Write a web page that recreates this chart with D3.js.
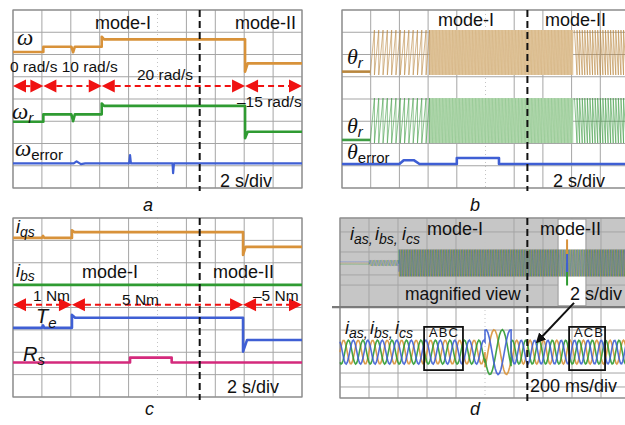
<!DOCTYPE html>
<html lang="en">
<head>
<meta charset="utf-8">
<title>Scope traces, modes I and II</title>
<script src="https://d3js.org/d3.v7.min.js"></script>
<style>
  body { margin: 0; background: #fff; }
  svg { display: block; }
  .txt { font-family: "Liberation Sans", Arial, Helvetica, sans-serif; fill: #111; }
  .greek { font-family: "Liberation Serif", "Times New Roman", serif; font-style: italic; fill: #111; }
  .ivar { font-family: "Liberation Sans", Arial, Helvetica, sans-serif; font-style: italic; fill: #111; }
</style>
</head>
<body>
<svg width="625" height="425"></svg>
<script>
// values read off the scope screens
// time in divisions (0..10 across), level in divisions (0..8 from the top)

// a: speed reference, estimated speed, speed error
const omegaRef = [[0,1.89],[1.05,1.89],[1.05,1.65],[2.02,1.65],[2.08,1.9],[2.14,1.65],[3.07,1.65],[3.07,1.2],[3.15,1.32],[8.03,1.32],[8.03,2.77],[8.12,2.4],[10,2.4]];
const omegaEst = [[0,5.02],[1.05,5.02],[1.05,4.69],[2.02,4.69],[2.08,5.0],[2.14,4.69],[3.07,4.69],[3.07,4.2],[3.15,4.31],[8.03,4.31],[8.03,5.76],[8.12,5.47],[10,5.47]];
const omegaErr = [[0,6.89],[2.1,6.89],[2.2,6.8],[2.35,6.93],[2.5,6.89],[4.02,6.89],[4.05,6.52],[4.08,6.89],[5.52,6.89],[5.54,7.33],[5.57,6.89],[10,6.89]];
const speedSteps = [0, 1.05, 3.07, 8.03, 10];   // red arrow limits

// b: rotor position (sawtooth runs), position error
const thetaStart  = [0.98, 3.05, 8.1];
const thetaEnd    = [3.05, 8.05, 10.2];
const thetaPeriod = [0.15, 0.05, 0.09];
const thetaDir    = [1, 1, -1];
const thetaBandOrange = [0.9, 2.92, 2.77];   // top, bottom, rest level
const thetaBandGreen  = [3.96, 5.98, 5.84];
const thetaErr = [[0,6.92],[2.0,6.92],[2.15,6.75],[2.5,6.75],[2.7,6.92],[4.0,6.92],[4.0,6.65],[5.47,6.65],[5.47,6.92],[10.2,6.92]];

// c: q-axis current, b-phase current, torque, stator resistance
const iqs = [[0,0.89],[1.0,0.89],[1.04,0.8],[1.08,0.89],[2.04,0.89],[2.04,0.55],[2.12,0.63],[7.96,0.63],[7.96,1.65],[8.05,1.29],[10,1.29]];
const ibs = [[0,2.99],[10,2.99]];
const torque = [[0,4.91],[1.0,4.91],[1.04,4.8],[1.08,4.91],[2.04,4.91],[2.04,4.33],[2.15,4.46],[7.96,4.46],[7.96,5.97],[8.1,5.45],[10,5.45]];
const rs = [[0,6.46],[4.05,6.46],[4.05,6.24],[5.49,6.24],[5.49,6.46],[10,6.46]];
const torqueSteps = [0, 2.04, 7.96, 10];

// d: three-phase currents, compressed view (top) and magnified view (bottom)
const topStart  = [0, 1.03, 2.03];
const topEnd    = [1.03, 2.03, 10.2];
const topAmp    = [0.06, 0.13, 0.6];
const topPeriod = [1000, 0.12, 0.09];
const lowStart  = [0, 5.0, 5.9];
const lowEnd    = [5.0, 5.9, 10.2];
const lowAmp    = [0.53, 1.0, 0.53];
const lowPeriod = [0.5, 0.85, 0.46];
const lowOrder  = [1, 1, -1];          // ABC then ACB

const modeSwitch = 6.46;

// ---------------------------------------------------------------
const svg = d3.select("svg");
const C = {orange: "#d8923a", green: "#2f9b32", blue: "#3f5fd4", magenta: "#d42a7c", red: "#f01212"};
const phaseColor = [C.orange, C.green, C.blue];

const boxA = {x0: 13, x1: 302, y0: 10, y1: 188};
const boxB = {x0: 342, x1: 629, y0: 10, y1: 188};
const boxC = {x0: 13, x1: 302, y0: 218, y1: 397};
const boxD = {x0: 340, x1: 630, y0: 218, y1: 398};

function scales(b) {
  return {
    x: d3.scaleLinear().domain([0, 10]).range([b.x0, b.x1]),
    y: d3.scaleLinear().domain([0, 8]).range([b.y0, b.y1])
  };
}
const sA = scales(boxA), sB = scales(boxB), sC = scales(boxC), sD = scales(boxD);

function grid(s, rows) {
  const g = svg.append("g");
  const ys = rows || d3.range(0, 9);
  g.selectAll(".v").data(d3.range(0, 11)).enter().append("line")
    .attr("x1", d => s.x(d)).attr("x2", d => s.x(d))
    .attr("y1", s.y(0)).attr("y2", s.y(8))
    .attr("stroke", d => d === 5 ? "#c4c4c4" : "#a5a5a5")
    .attr("stroke-dasharray", d => d === 5 ? "1,3" : null)
    .attr("stroke-width", 1);
  g.selectAll(".h").data(ys).enter().append("line")
    .attr("x1", s.x(0)).attr("x2", s.x(10))
    .attr("y1", d => s.y(d)).attr("y2", d => s.y(d))
    .attr("stroke", "#a5a5a5").attr("stroke-width", 1);
  // outer frame
  g.append("rect").attr("x", s.x(0)).attr("y", s.y(0))
    .attr("width", s.x(10) - s.x(0)).attr("height", s.y(8) - s.y(0))
    .attr("fill", "none").attr("stroke", "#8c8c8c").attr("stroke-width", 1.2);
  return g;
}

function trace(s, pts, color, w, alpha) {
  const line = d3.line().x(d => s.x(d[0])).y(d => s.y(d[1]));
  svg.append("path").attr("d", line(pts)).attr("fill", "none")
    .attr("stroke", color).attr("stroke-width", w || 2.6)
    .attr("stroke-opacity", alpha || 1)
    .attr("stroke-linejoin", "round");
}

function modeLine(s) {
  svg.append("line").attr("x1", s.x(modeSwitch)).attr("x2", s.x(modeSwitch))
    .attr("y1", s.y(0)).attr("y2", s.y(8) + 3)
    .attr("stroke", "#111").attr("stroke-width", 2).attr("stroke-dasharray", "7,4");
}

function redArrows(s, bounds, lvl) {
  const y = s.y(lvl), L = 13, H = 6.5;
  for (let i = 0; i < bounds.length - 1; i++) {
    const xa = s.x(bounds[i]), xb = s.x(bounds[i + 1]);
    svg.append("path").attr("d", `M${xa},${y}L${xa + L},${y - H}L${xa + L},${y + H}Z`).attr("fill", C.red);
    svg.append("path").attr("d", `M${xb},${y}L${xb - L},${y - H}L${xb - L},${y + H}Z`).attr("fill", C.red);
    if (xb - xa > 2 * L + 4) {
      svg.append("line").attr("x1", xa + L).attr("x2", xb - L).attr("y1", y).attr("y2", y)
        .attr("stroke", C.red).attr("stroke-width", 2).attr("stroke-dasharray", "6,4");
    }
  }
}

function text(x, y, str, size, cls) {
  return svg.append("text").attr("x", x).attr("y", y).attr("class", cls || "txt")
    .style("font-size", size + "px").text(str);
}

function subLabel(x, y, main, sub, cls, size, subSize, subItalic, dy) {
  const t = svg.append("text").attr("x", x).attr("y", y).attr("class", cls).style("font-size", size + "px");
  t.append("tspan").text(main);
  t.append("tspan").attr("class", subItalic ? "ivar" : "txt").attr("dy", dy)
    .style("font-size", subSize + "px").style("font-style", subItalic ? "italic" : "normal").text(sub);
  return t;
}

// ---------------- panel a
grid(sA);
trace(sA, omegaRef, C.orange);
trace(sA, omegaEst, C.green);
trace(sA, omegaErr, C.blue, 2.2);
modeLine(sA);
redArrows(sA, speedSteps, 3.42);
text(95, 29, "mode-I", 18);
text(235, 29, "mode-II", 18);
text(17, 45, "\u03c9", 23, "greek");
text(10, 72, "0 rad/s 10 rad/s", 15.5);
text(137, 80, "20 rad/s", 15.5);
text(237, 107, "\u201315 rad/s", 15.5);
subLabel(12, 119, "\u03c9", "r", "greek", 23, 15, true, 4);
subLabel(15, 156, "\u03c9", "error", "greek", 23, 15, false, 4);
text(220, 187, "2 s/div", 18);
text(143, 211, "a", 18, "ivar");

// ---------------- panel b
grid(sB);
function sawtooth(s, band, color, fill) {
  const [top, bot, rest] = band;
  trace(s, [[0, rest], [thetaStart[0], rest]], color, 2.6);
  // light fill behind the fast run
  svg.append("rect").attr("x", s.x(thetaStart[1])).attr("y", s.y(top))
    .attr("width", s.x(thetaEnd[1]) - s.x(thetaStart[1])).attr("height", s.y(bot) - s.y(top))
    .attr("fill", fill);
  for (let k = 0; k < thetaStart.length; k++) {
    const pts = [];
    const lo = thetaDir[k] > 0 ? bot : top, hi = thetaDir[k] > 0 ? top : bot;
    for (let t = thetaStart[k]; t < thetaEnd[k] - 1e-9; t += thetaPeriod[k]) {
      const te = Math.min(t + thetaPeriod[k], thetaEnd[k]);
      pts.push([t, lo], [te, hi], [te, lo]);
    }
    trace(s, pts, color, k === 1 ? 0.5 : 0.8, k === 1 ? 0.45 : 0.75);
  }
}
sawtooth(sB, thetaBandOrange, "#b9873f", "#ecd7b6");
sawtooth(sB, thetaBandGreen, "#3f9c44", "#d3e9cd");
trace(sB, thetaErr, C.blue, 2.6);
modeLine(sB);
text(438, 26, "mode-I", 18);
text(545, 26, "mode-II", 18);
subLabel(347, 64, "\u03b8", "r", "greek", 22, 15, true, 4);
subLabel(347, 133, "\u03b8", "r", "greek", 22, 15, true, 4);
subLabel(347, 159, "\u03b8", "error", "greek", 22, 15, false, 4);
text(553, 187, "2 s/div", 18);
text(470, 211, "b", 18, "ivar");

// ---------------- panel c
grid(sC);
trace(sC, iqs, C.orange);
trace(sC, ibs, C.green);
trace(sC, torque, C.blue);
trace(sC, rs, C.magenta);
modeLine(sC);
redArrows(sC, torqueSteps, 3.88);
subLabel(16, 233, "i", "qs", "ivar", 18, 14, true, 4);
subLabel(16, 277, "i", "bs", "ivar", 18, 14, true, 4);
text(82, 278, "mode-I", 18);
text(213, 278, "mode-II", 18);
text(33, 301, "1 Nm", 15.5);
text(122, 305, "5 Nm", 15.5);
text(253, 301, "\u20135 Nm", 15.5);
subLabel(36, 323, "T", "e", "ivar", 20, 15, true, 5);
subLabel(23, 361, "R", "s", "ivar", 20, 15, true, 4);
text(227, 393, "2 s/div", 18);
text(145, 415, "c", 18, "ivar");

// ---------------- panel d
const dRows = [0, 0.62, 1.51, 2.53, 2.98, 3.96, 4.98, 6.89, 7.51, 8];
svg.append("rect").attr("x", sD.x(0)).attr("y", sD.y(0))
  .attr("width", 625 - sD.x(0)).attr("height", sD.y(3.96) - sD.y(0)).attr("fill", "#c6c6c6");
grid(sD, dRows);
svg.append("line").attr("x1", sD.x(0) - 8).attr("x2", 625).attr("y1", sD.y(3.96)).attr("y2", sD.y(3.96))
  .attr("stroke", "#7a7a7a").attr("stroke-width", 2.2);
// white highlight window in the compressed view
svg.append("rect").attr("x", sD.x(7.52)).attr("y", sD.y(0.05))
  .attr("width", sD.x(8.48) - sD.x(7.52)).attr("height", sD.y(3.9) - sD.y(0.05))
  .attr("fill", "#fff").attr("stroke", "#9a9a9a");

function phases(s, starts, ends, amps, periods, orders, center, width, alpha) {
  for (let k = 0; k < 3; k++) {
    const pts = [];
    for (let i = 0; i < starts.length; i++) {
      const step = Math.min(periods[i] / 14, 0.05);
      for (let t = starts[i]; t <= ends[i] + 1e-9; t += step) {
        const ph = 2 * Math.PI * t / periods[i] - (orders ? orders[i] : 1) * k * 2 * Math.PI / 3;
        pts.push([t, center - amps[i] * Math.sin(ph)]);
      }
    }
    const line = d3.line().x(d => s.x(d[0])).y(d => s.y(d[1]));
    svg.append("path").attr("d", line(pts)).attr("fill", "none")
      .attr("stroke", phaseColor[k]).attr("stroke-width", width).attr("stroke-opacity", alpha);
  }
}
// compressed view: dense band, colours blended
svg.append("rect").attr("x", sD.x(topStart[2])).attr("y", sD.y(2.0 - topAmp[2]))
  .attr("width", 625 - sD.x(topStart[2])).attr("height", sD.y(2.0 + topAmp[2]) - sD.y(2.0 - topAmp[2]))
  .attr("fill", "#7f7f5a").attr("opacity", 0.55);
phases(sD, topStart, topEnd, topAmp, topPeriod, null, 2.0, 0.7, 0.5);
// reversal spike inside the window
trace(sD, [[7.83, 0.95], [7.83, 2.0]], C.orange, 2);
trace(sD, [[7.83, 2.0], [7.83, 3.0]], C.green, 2);
trace(sD, [[7.83, 1.6], [7.83, 2.4]], C.blue, 2);
phases(sD, lowStart, lowEnd, lowAmp, lowPeriod, lowOrder, 5.96, 1.6, 0.9);
modeLine(sD);

subLabel(350, 240, "i", "as,", "ivar", 18, 14, true, 4);
subLabel(375, 240, "i", "bs,", "ivar", 18, 14, true, 4);
subLabel(402, 240, "i", "cs", "ivar", 18, 14, true, 4);
text(427, 235, "mode-I", 18);
text(540, 235, "mode-II", 18);
text(405, 300, "magnified view", 17.5);
text(570, 300, "2 s/div", 18);
subLabel(345, 334, "i", "as,", "ivar", 18, 14, true, 4);
subLabel(370, 334, "i", "bs,", "ivar", 18, 14, true, 4);
subLabel(395, 334, "i", "cs", "ivar", 18, 14, true, 4);

// phase-sequence boxes
function seqBox(t0, t1, label) {
  svg.append("rect").attr("x", sD.x(t0)).attr("y", sD.y(4.84))
    .attr("width", sD.x(t1) - sD.x(t0)).attr("height", sD.y(6.76) - sD.y(4.84))
    .attr("fill", "none").attr("stroke", "#111").attr("stroke-width", 1.8);
  text(sD.x(t0) + 5, sD.y(5.3), label, 13).style("letter-spacing", "1px");
}
seqBox(2.9, 4.24, "ABC");
seqBox(7.9, 9.14, "ACB");

svg.append("defs").append("marker").attr("id", "ah").attr("viewBox", "0 0 10 10")
  .attr("refX", 8).attr("refY", 5).attr("markerWidth", 5).attr("markerHeight", 5).attr("orient", "auto")
  .append("path").attr("d", "M0,0L10,5L0,10Z").attr("fill", "#111");
svg.append("line").attr("x1", sD.x(8.07)).attr("y1", sD.y(3.77))
  .attr("x2", sD.x(6.8)).attr("y2", sD.y(5.5))
  .attr("stroke", "#111").attr("stroke-width", 2).attr("marker-end", "url(#ah)");

text(530, 392, "200 ms/div", 18);
text(470, 415, "d", 18, "ivar");
</script>
</body>
</html>
